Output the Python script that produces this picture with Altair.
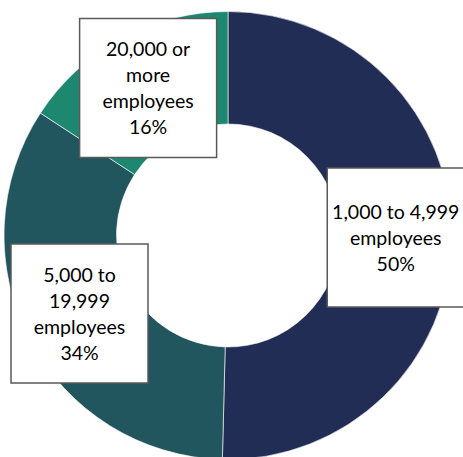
import altair as alt
import pandas as pd

# ---- data ----
categories = ["1,000 to 4,999 employees", "5,000 to 19,999 employees", "20,000 or more employees"]
wrapped_labels = ["1,000 to 4,999\nemployees", "5,000 to\n19,999\nemployees", "20,000 or\nmore\nemployees"]
shares = [50.4, 33.8, 15.8]
colors = ["#212D55", "#22565F", "#1E8770"]

df = pd.DataFrame({
    "category": categories,
    "label": wrapped_labels,
    "value": shares,
    "order": list(range(len(categories))),
})
df["text"] = [f"{l}\n{round(v)}%" for l, v in zip(wrapped_labels, shares)]
df["nlines"] = [t.count("\n") + 1 for t in df["text"]]

W, H = 463, 457
R_OUT, R_IN = 224, 111.5
R_LAB = (R_OUT + R_IN) / 2
BOX_W, BOX_H = 137, 139
LINE_H = 26

xscale = alt.Scale(domain=[-228, W - 228], range=[0, W])
yscale = alt.Scale(domain=[-(H - 235.5), 235.5])

base = alt.Chart(df).transform_joinaggregate(
    total="sum(value)"
).transform_window(
    cum="sum(value)", sort=[alt.SortField("order")], frame=[None, 0]
).transform_calculate(
    mid="2*PI*(datum.cum - datum.value/2)/datum.total"
).transform_calculate(
    cx=f"{R_LAB}*sin(datum.mid)",
    cy=f"{R_LAB}*cos(datum.mid)",
).transform_calculate(
    bx1=f"datum.cx - {BOX_W/2}",
    bx2=f"datum.cx + {BOX_W/2}",
    by1=f"datum.cy - {BOX_H/2}",
    by2=f"datum.cy + {BOX_H/2}",
    ty=f"datum.cy + (datum.nlines - 1) * {LINE_H / 2} - 1",
)

arcs = alt.Chart(df).mark_arc(
    innerRadius=R_IN, outerRadius=R_OUT, stroke="#ffffff", strokeWidth=0.6
).encode(
    theta=alt.Theta("value:Q", stack=True),
    order=alt.Order("order:Q"),
    color=alt.Color("category:N", scale=alt.Scale(domain=categories, range=colors), legend=None),
    x=alt.datum(0, type="quantitative", scale=xscale, axis=None),
    y=alt.datum(0, type="quantitative", scale=yscale, axis=None),
)

boxes = base.mark_rect(fill="#ffffff", stroke="#5a5a5a", strokeWidth=1.5).encode(
    x=alt.X("bx1:Q", scale=xscale, axis=None),
    x2="bx2:Q",
    y=alt.Y("by1:Q", scale=yscale, axis=None),
    y2="by2:Q",
)

texts = base.mark_text(
    font="Lato", fontSize=19.5, lineHeight=LINE_H, lineBreak="\n",
    align="center", baseline="middle", color="#000000"
).encode(
    x=alt.X("cx:Q", scale=xscale, axis=None),
    y=alt.Y("ty:Q", scale=yscale, axis=None),
    text="text:N",
)

chart = alt.layer(arcs, boxes, texts).properties(
    width=W, height=H, padding=0, autosize=alt.AutoSizeParams(type="none"),
    background="#ffffff",
).configure_view(strokeWidth=0)

chart.save("out.html", embed_options={"renderer": "svg", "actions": False})
